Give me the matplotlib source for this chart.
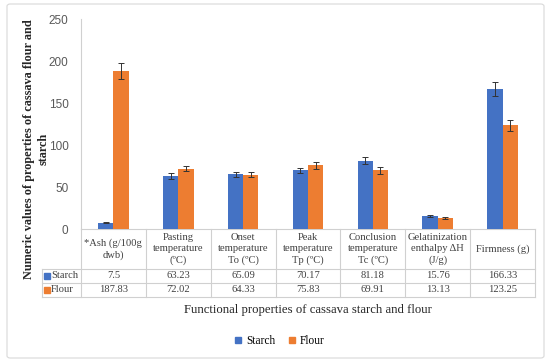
import matplotlib
matplotlib.use("Agg")
import matplotlib.pyplot as plt
from matplotlib.lines import Line2D
from matplotlib.patches import FancyBboxPatch
from matplotlib.transforms import blended_transform_factory
import numpy as np

categories = ["*Ash (g/100g\ndwb)", "Pasting\ntemperature\n(ºC)", "Onset\ntemperature\nTo (ºC)",
              "Peak\ntemperature\nTp (ºC)", "Conclusion\ntemperature\nTc (ºC)",
              "Gelatinization\nenthalpy ΔH\n(J/g)", "Firmness (g)"]
starch = [7.5, 63.23, 65.09, 70.17, 81.18, 15.76, 166.33]
flour = [187.83, 72.02, 64.33, 75.83, 69.91, 13.13, 123.25]
starch_err = [0.6, 3.5, 3.0, 3.0, 4.0, 1.0, 8.5]
flour_err = [9.5, 3.5, 3.0, 4.0, 4.0, 1.0, 6.5]
series_names = ["Starch", "Flour"]
yticks = [0, 50, 100, 150, 200, 250]

BLUE = "#4472C4"
ORANGE = "#ED7D31"
GRID = "#D0D0D0"
TXT = "#404040"
SERIF = ["Liberation Serif", "DejaVu Serif"]
SANS = ["Liberation Sans", "DejaVu Sans"]

W, H = 550, 362
fig = plt.figure(figsize=(W / 100, H / 100), dpi=100)

# outer border
border = FancyBboxPatch((7 / W, 4 / H), 537 / W, 354 / H,
                        boxstyle="round,pad=0,rounding_size=0.006",
                        transform=fig.transFigure, fc="white", ec="#D9D9D9", lw=0.8, zorder=-10)
fig.patches.append(border)

ax = fig.add_axes([81 / W, 1 - 229 / H, 454 / W, 210 / H])
ax.set_zorder(1)
n = len(categories)
x = np.arange(n) + 0.5
bw = 0.235
ax.bar(x - bw / 2, starch, bw, color=BLUE, yerr=starch_err,
       error_kw=dict(ecolor="#333333", elinewidth=0.7, capsize=2.2, capthick=0.7), zorder=3)
ax.bar(x + bw / 2, flour, bw, color=ORANGE, yerr=flour_err,
       error_kw=dict(ecolor="#333333", elinewidth=0.7, capsize=2.2, capthick=0.7), zorder=3)
ax.set_xlim(0, n)
ax.set_ylim(0, 250)
ax.set_yticks(yticks)
ax.set_yticklabels([str(t) for t in yticks], family=SANS, fontsize=8.5, color="#595959")
ax.tick_params(axis="y", length=0, pad=9)
ax.set_xticks([])
for s in ["top", "right"]:
    ax.spines[s].set_visible(False)
ax.spines["left"].set_color(GRID)
ax.spines["left"].set_linewidth(0.8)
ax.spines["bottom"].set_color(GRID)
ax.spines["bottom"].set_linewidth(0.8)
ax.set_facecolor("none")

# data table below the axis
tr = blended_transform_factory(ax.transData, ax.transAxes)
hpx = 210.0
y_hdr = -40 / hpx
y_mid = -54 / hpx
y_bot = -68 / hpx
x_left = (42 - 81) / 454 * n
lkw = dict(color=GRID, lw=0.8, transform=tr, clip_on=False)
for yy in (y_hdr, y_mid, y_bot):
    ax.add_line(Line2D([x_left, n], [yy, yy], **lkw))
for i in range(n + 1):
    ax.add_line(Line2D([i, i], [0, y_bot], **lkw))
ax.add_line(Line2D([x_left, x_left], [y_hdr, y_bot], **lkw))

FS = 7.6
for i, lab in enumerate(categories):
    ax.text(x[i], y_hdr / 2, lab, transform=tr, ha="center", va="center",
            fontsize=FS, family=SERIF, color=TXT, linespacing=1.35)
    ax.text(x[i], (y_hdr + y_mid) / 2, f"{starch[i]:g}", transform=tr, ha="center",
            va="center", fontsize=FS, family=SERIF, color=TXT)
    ax.text(x[i], (y_mid + y_bot) / 2, f"{flour[i]:g}", transform=tr, ha="center",
            va="center", fontsize=FS, family=SERIF, color=TXT)

for yy0, yy1, col, name in [(y_hdr, y_mid, BLUE, series_names[0]), (y_mid, y_bot, ORANGE, series_names[1])]:
    yc = (yy0 + yy1) / 2
    ax.plot([x_left + 0.07], [yc], marker="s", ms=4.5, color=col, transform=tr, clip_on=False)
    ax.text(x_left + 0.14, yc, name, transform=tr, ha="left", va="center",
            fontsize=FS, family=SERIF, color=TXT)

# axis titles
fig.text(36 / W, 1 - 149 / H, "Numeric values of properties of cassava flour and\nstarch",
         rotation=90, ha="center", va="center", fontsize=8.8, fontweight="bold",
         family=SERIF, color="#262626", linespacing=1.3)
fig.text(308 / W, 1 - 310 / H, "Functional properties of cassava starch and flour",
         ha="center", va="center", fontsize=9.2, family=SERIF, color="#262626")

# legend
handles = [Line2D([], [], marker="s", ls="none", ms=5, color=BLUE),
           Line2D([], [], marker="s", ls="none", ms=5, color=ORANGE)]
fig.legend(handles, series_names, loc="center", bbox_to_anchor=(279 / W, 1 - 341 / H),
           ncol=2, frameon=False, handlelength=0.8, handletextpad=0.3, columnspacing=1.0,
           prop=dict(family=SERIF, size=8.3))

fig.savefig("out.png", dpi=100)
